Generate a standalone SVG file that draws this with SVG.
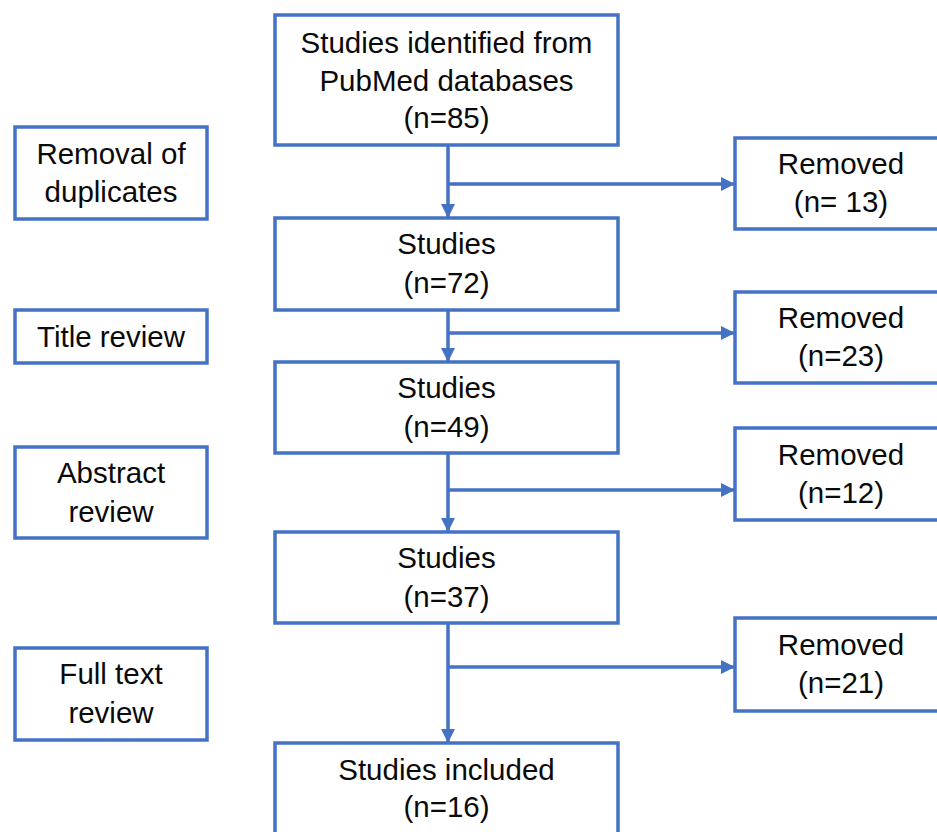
<svg xmlns="http://www.w3.org/2000/svg" width="937" height="832" viewBox="0 0 937 832">
<defs>
<style>
.box{fill:#ffffff;stroke:#4472C4;stroke-width:3.5}
.t{font-family:"Liberation Sans",Arial,sans-serif;font-size:29.5px;fill:#0a0a0a;text-anchor:middle}
.c{stroke:#4472C4;stroke-width:3.5;fill:none}
</style>
<marker id="ah" markerUnits="userSpaceOnUse" markerWidth="16" markerHeight="16" refX="14" refY="8" orient="auto">
<path d="M0,1 L14,8 L0,15 Z" fill="#4472C4"/>
</marker>
</defs>
<rect width="937" height="832" fill="#ffffff"/>
<g id="connectors">
<line class="c" x1="448" y1="145" x2="448" y2="218" marker-end="url(#ah)"/>
<line class="c" x1="448" y1="184" x2="735" y2="184" marker-end="url(#ah)"/>
<line class="c" x1="448" y1="310" x2="448" y2="362" marker-end="url(#ah)"/>
<line class="c" x1="448" y1="333" x2="735" y2="333" marker-end="url(#ah)"/>
<line class="c" x1="448" y1="453" x2="448" y2="532" marker-end="url(#ah)"/>
<line class="c" x1="448" y1="490" x2="735" y2="490" marker-end="url(#ah)"/>
<line class="c" x1="448" y1="623" x2="448" y2="743" marker-end="url(#ah)"/>
<line class="c" x1="448" y1="667" x2="735" y2="667" marker-end="url(#ah)"/>
</g>
<g id="n85">
<rect class="box" x="275" y="15" width="343" height="130"/>
<text class="t" x="446.5" y="53">Studies identified from</text>
<text class="t" x="446.5" y="91">PubMed databases</text>
<text class="t" x="446.5" y="128">(n=85)</text>
</g>
<g id="n72">
<rect class="box" x="275" y="218" width="343" height="92"/>
<text class="t" x="446.5" y="254">Studies</text>
<text class="t" x="446.5" y="293">(n=72)</text>
</g>
<g id="n49">
<rect class="box" x="275" y="362" width="343" height="91"/>
<text class="t" x="446.5" y="398">Studies</text>
<text class="t" x="446.5" y="437">(n=49)</text>
</g>
<g id="n37">
<rect class="box" x="275" y="532" width="343" height="91"/>
<text class="t" x="446.5" y="568">Studies</text>
<text class="t" x="446.5" y="607">(n=37)</text>
</g>
<g id="n16">
<rect class="box" x="275" y="743" width="343" height="110"/>
<text class="t" x="446.5" y="780">Studies included</text>
<text class="t" x="446.5" y="817">(n=16)</text>
</g>
<g id="dup">
<rect class="box" x="15" y="127" width="192" height="92"/>
<text class="t" x="111" y="164">Removal of</text>
<text class="t" x="111" y="202">duplicates</text>
</g>
<g id="title">
<rect class="box" x="15" y="310" width="192" height="53"/>
<text class="t" x="111" y="347">Title review</text>
</g>
<g id="abstract">
<rect class="box" x="15" y="447" width="192" height="91"/>
<text class="t" x="111" y="483">Abstract</text>
<text class="t" x="111" y="522">review</text>
</g>
<g id="fulltext">
<rect class="box" x="15" y="648" width="192" height="92"/>
<text class="t" x="111" y="684">Full text</text>
<text class="t" x="111" y="723">review</text>
</g>
<g id="r13">
<rect class="box" x="735" y="138" width="215" height="91"/>
<text class="t" x="841" y="174">Removed</text>
<text class="t" x="841" y="212">(n= 13)</text>
</g>
<g id="r23">
<rect class="box" x="735" y="292" width="215" height="91"/>
<text class="t" x="841" y="328">Removed</text>
<text class="t" x="841" y="366">(n=23)</text>
</g>
<g id="r12">
<rect class="box" x="735" y="428" width="215" height="92"/>
<text class="t" x="841" y="465">Removed</text>
<text class="t" x="841" y="503">(n=12)</text>
</g>
<g id="r21">
<rect class="box" x="735" y="618" width="215" height="93"/>
<text class="t" x="841" y="655">Removed</text>
<text class="t" x="841" y="693">(n=21)</text>
</g>
</svg>
